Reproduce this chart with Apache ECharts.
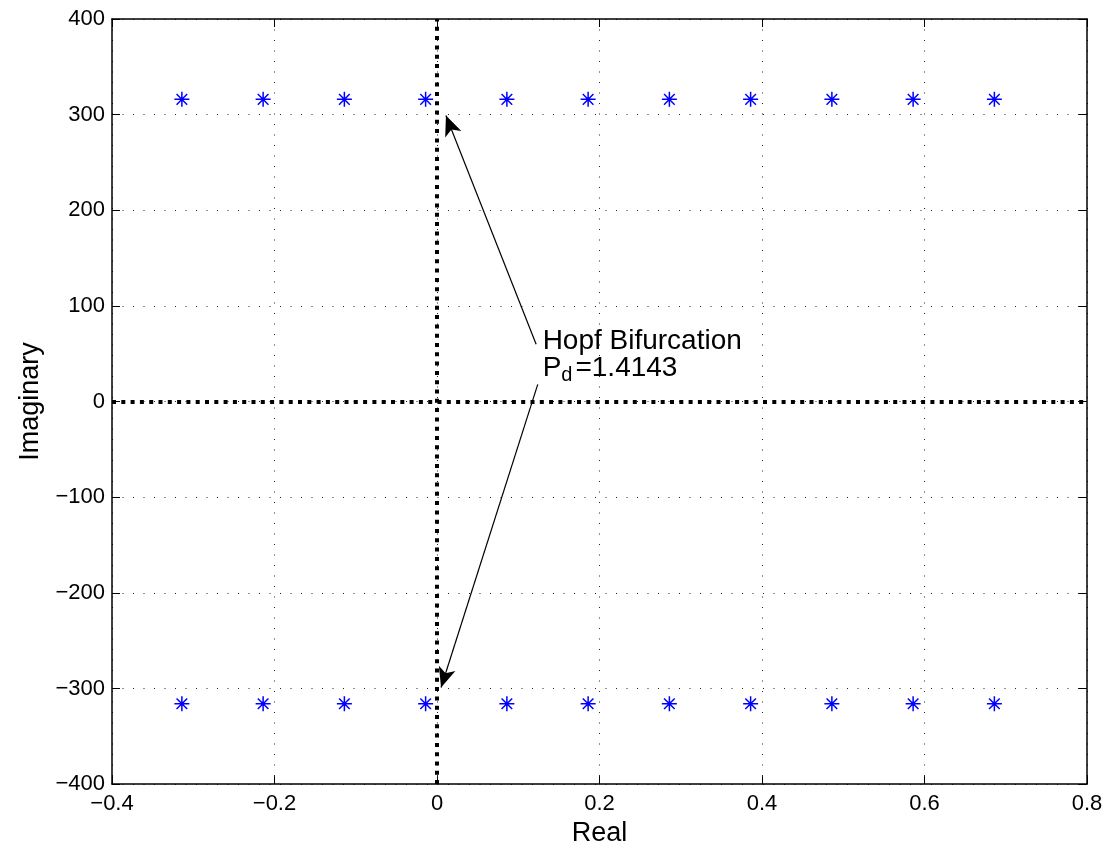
<!DOCTYPE html>
<html>
<head>
<meta charset="utf-8">
<title>Eigenvalues – Hopf Bifurcation</title>
<script src="https://cdn.jsdelivr.net/npm/echarts@6/dist/echarts.min.js"></script>
<style>
  html, body { margin: 0; padding: 0; background: #fff; }
  #chart { width: 1106px; height: 852px; }
</style>
</head>
<body>
<div id="chart"></div>
<script>
// Real parts of the eigenvalue pairs
const realParts = [-0.314, -0.214, -0.114, -0.014, 0.086, 0.186, 0.286, 0.386, 0.486, 0.586, 0.686];
// Imaginary parts (upper and lower branches)
const imagUpper = 316;
const imagLower = -316;
// Axis ranges and tick steps
const xRange = [-0.4, 0.8];
const yRange = [-400, 400];
const xStep = 0.2;
const yStep = 100;
// Annotation
const noteAnchor = [0.13, 49];
const noteTitle = 'Hopf Bifurcation';
const noteValue = '1.4143';
const arrowUp = [[0.122, 60], [0.011, 299]];
const arrowDown = [[0.124, 18], [0.005, -299]];

const upperPts = realParts.map(x => [x, imagUpper]);
const lowerPts = realParts.map(x => [x, imagLower]);

// asterisk marker built from four thin bars
const asterisk = 'path://M0 45H100V55H0Z M45 0H55V100H45Z M11 18L18 11L89 82L82 89Z M82 11L89 18L18 89L11 82Z';

const FONT = '"Liberation Sans", Arial, Helvetica, sans-serif';
const gridDots = { color: '#222', width: 1, type: [1, 9.5] };

const chart = echarts.init(document.getElementById('chart'), null, { renderer: 'canvas' });

const baseX = {
  type: 'value', min: xRange[0], max: xRange[1], interval: xStep,
  axisLine: { show: true, onZero: false, lineStyle: { color: '#000', width: 1.5 } },
  axisTick: { show: true, inside: true, length: 8, lineStyle: { color: '#000', width: 1 } }
};
const baseY = {
  type: 'value', min: yRange[0], max: yRange[1], interval: yStep,
  axisLine: { show: true, onZero: false, lineStyle: { color: '#000', width: 1.5 } },
  axisTick: { show: true, inside: true, length: 8, lineStyle: { color: '#000', width: 1 } }
};

chart.setOption({
  animation: false,
  backgroundColor: '#fff',
  grid: { left: 112, right: 19, top: 19, bottom: 65, containLabel: false },
  xAxis: [
    Object.assign({}, baseX, {
      position: 'bottom',
      name: 'Real', nameLocation: 'middle', nameGap: 34,
      nameTextStyle: { fontFamily: FONT, fontSize: 27, color: '#000' },
      axisLabel: {
        fontFamily: FONT, fontSize: 22, color: '#000', margin: 9,
        formatter: v => (Math.round(v * 10) / 10).toString().replace('-', '\u2212')
      },
      splitLine: { show: true, lineStyle: gridDots }
    }),
    Object.assign({}, baseX, {
      position: 'top',
      axisLabel: { show: false },
      splitLine: { show: false }
    })
  ],
  yAxis: [
    Object.assign({}, baseY, {
      position: 'left',
      name: 'Imaginary', nameLocation: 'middle', nameGap: 61, nameRotate: 90,
      nameTextStyle: { fontFamily: FONT, fontSize: 27, color: '#000' },
      axisLabel: {
        fontFamily: FONT, fontSize: 22, color: '#000', margin: 7,
        formatter: v => String(v).replace('-', '\u2212')
      },
      splitLine: { show: true, lineStyle: gridDots }
    }),
    Object.assign({}, baseY, {
      position: 'right',
      axisLabel: { show: false },
      splitLine: { show: false }
    })
  ],
  series: [
    {
      type: 'scatter',
      name: 'upper',
      data: upperPts,
      symbol: asterisk,
      symbolSize: 15,
      itemStyle: { color: '#0000ff', opacity: 1 },
      z: 5,
      markLine: {
        silent: true,
        symbol: ['none', 'none'],
        label: { show: false },
        lineStyle: { color: '#000', width: 4, type: [4, 5.3], opacity: 1 },
        data: [{ xAxis: 0 }, { yAxis: 0 }],
        z: 3
      }
    },
    {
      type: 'scatter',
      name: 'lower',
      data: lowerPts,
      symbol: asterisk,
      symbolSize: 15,
      itemStyle: { color: '#0000ff', opacity: 1 },
      z: 5,
      markLine: {
        silent: true,
        symbol: ['none', 'arrow'],
        symbolSize: [13, 20],
        label: { show: false },
        lineStyle: { color: '#000', width: 1.2, type: 'solid', opacity: 1 },
        data: [
          [{ coord: arrowUp[0] }, { coord: arrowUp[1] }],
          [{ coord: arrowDown[0] }, { coord: arrowDown[1] }]
        ],
        z: 6
      }
    },
    {
      type: 'scatter',
      name: 'note',
      data: [noteAnchor],
      symbolSize: 0,
      silent: true,
      itemStyle: { opacity: 1 },
      label: {
        show: true,
        position: 'right',
        distance: 0,
        color: '#000',
        textBorderWidth: 0,
        formatter: '{t|' + noteTitle + '}\n{t|P}{s|d}{t|=' + noteValue + '}',
        rich: {
          t: { fontFamily: FONT, fontSize: 28, color: '#000', lineHeight: 27 },
          s: { fontFamily: FONT, fontSize: 20, color: '#000', lineHeight: 27, padding: [15, 3, 0, 0] }
        }
      },
      z: 7
    }
  ]
});
</script>
</body>
</html>
